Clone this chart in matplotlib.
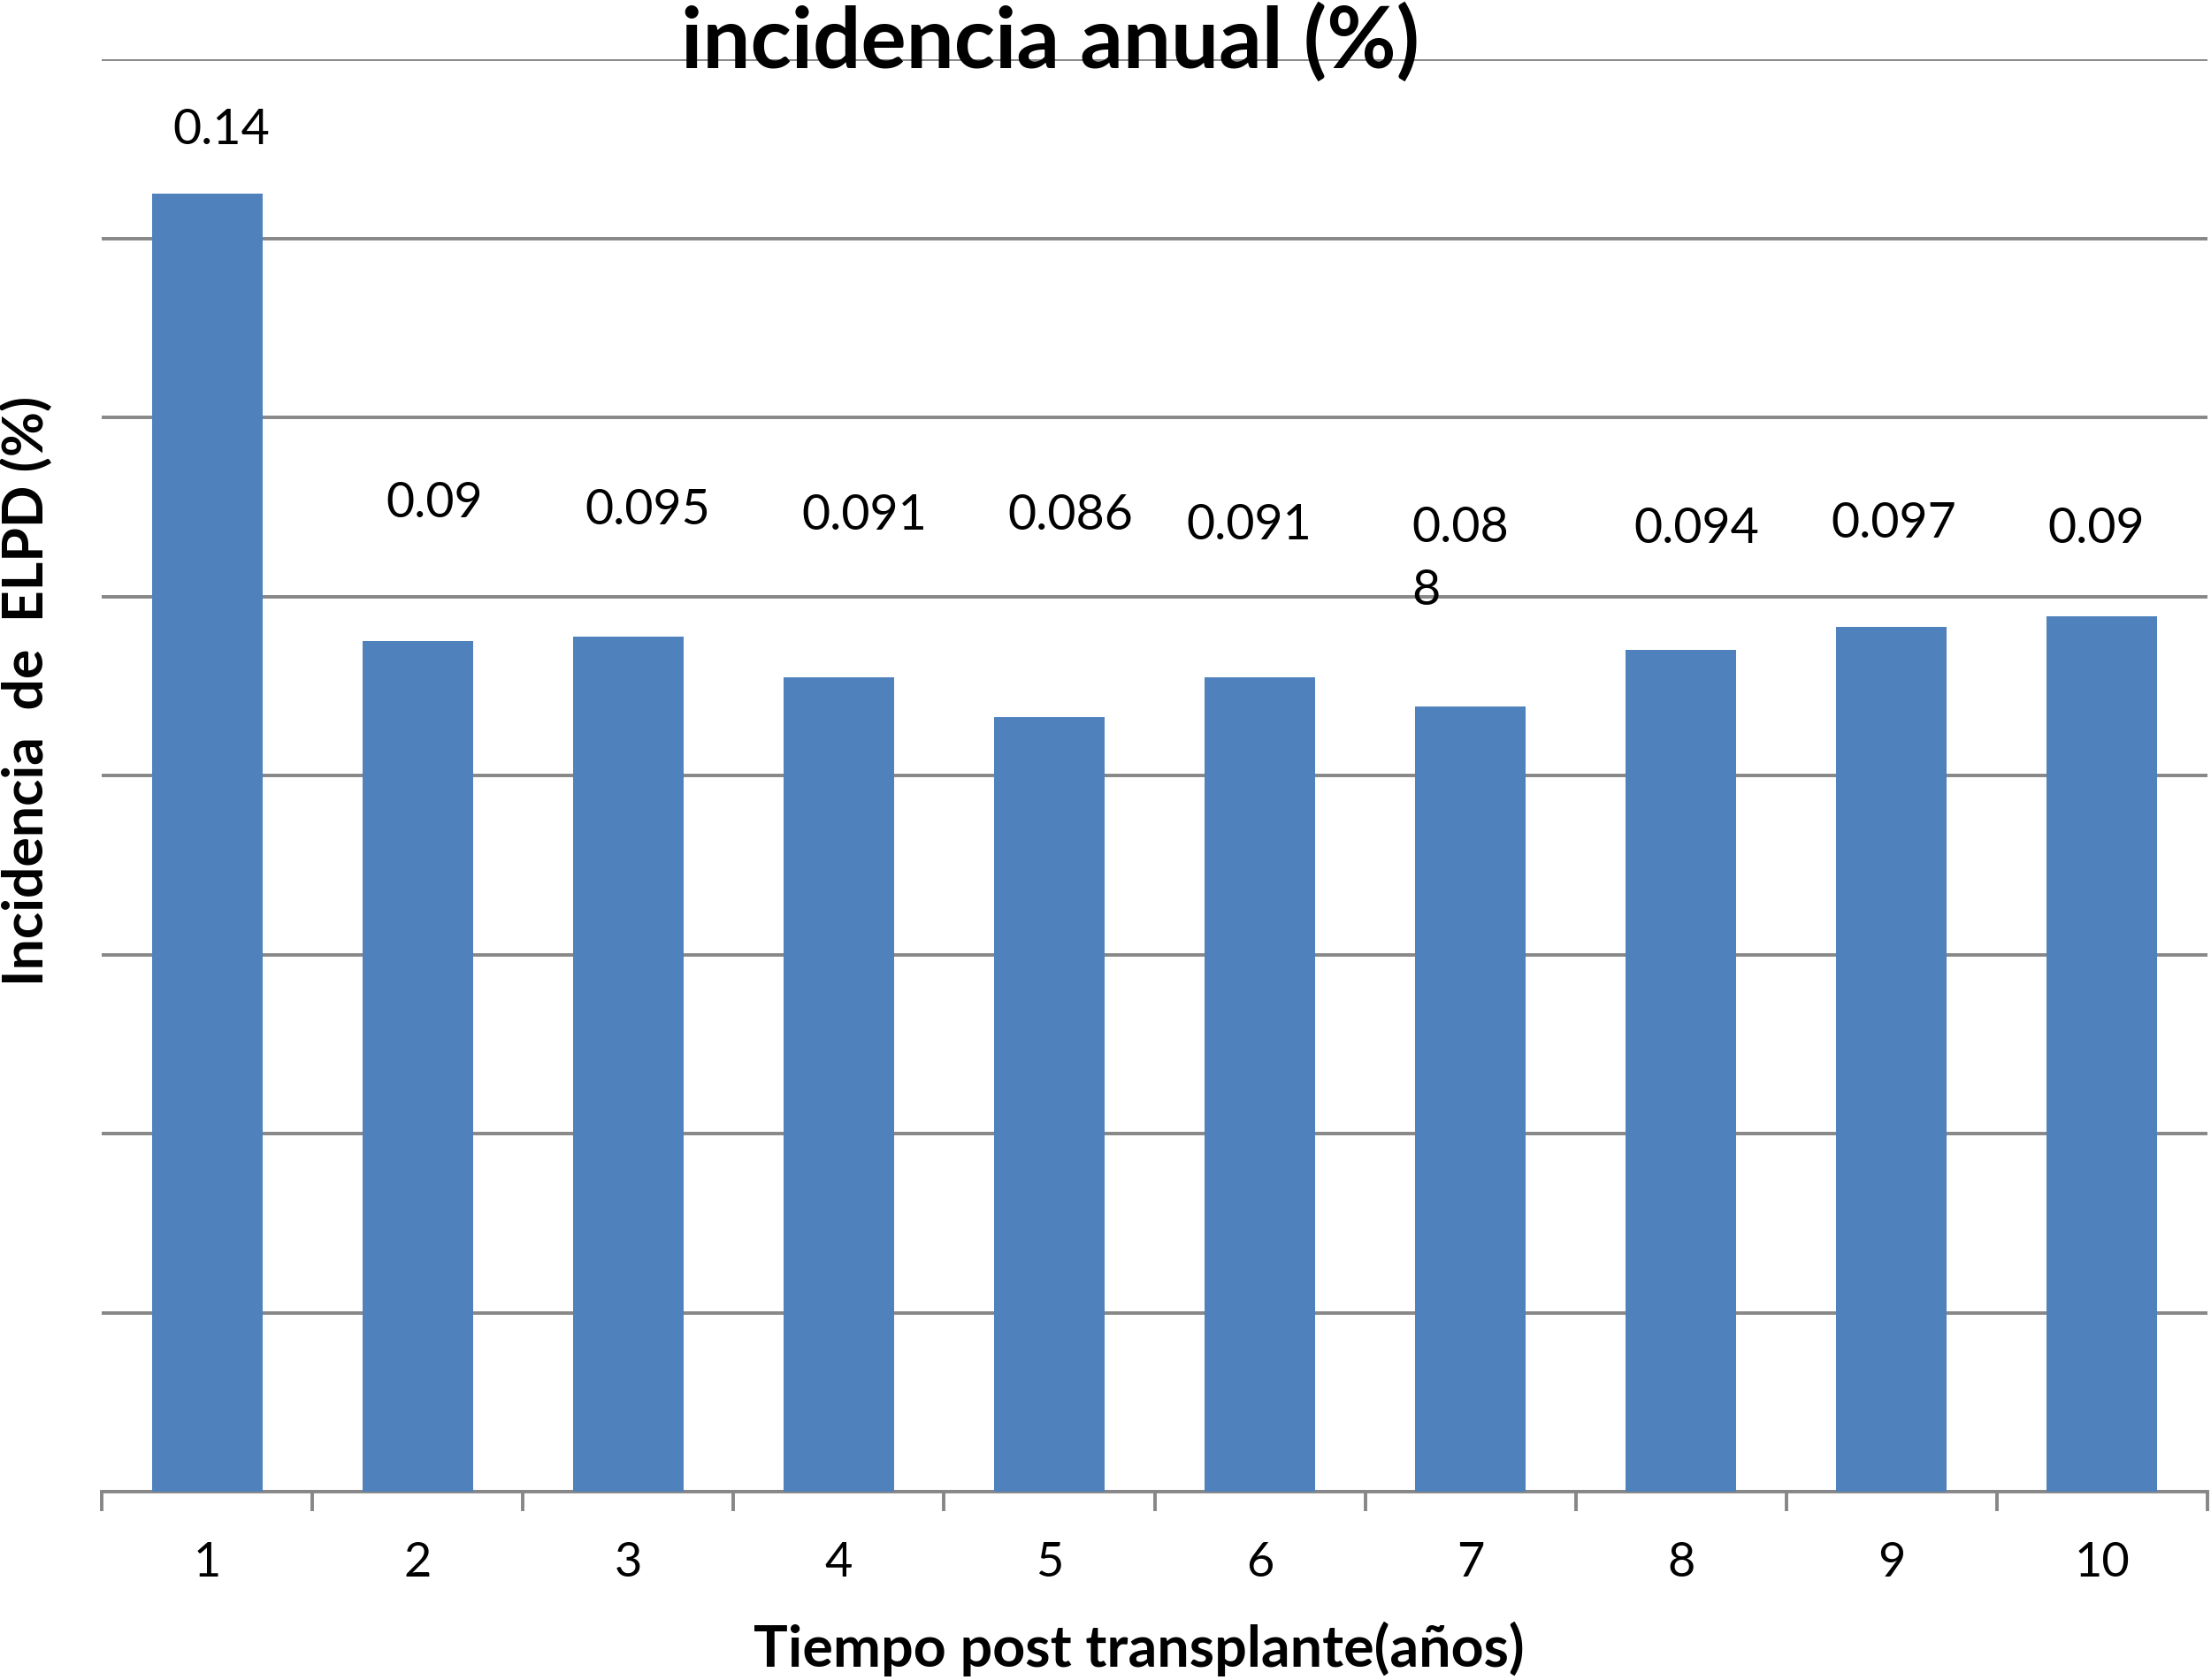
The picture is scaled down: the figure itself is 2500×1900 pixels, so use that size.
import numpy as np
import matplotlib
matplotlib.use('Agg')
import matplotlib.pyplot as plt

# data
years = ['1', '2', '3', '4', '5', '6', '7', '8', '9', '10']
incidence = [0.145, 0.095, 0.0955, 0.091, 0.0865, 0.091, 0.0877, 0.094, 0.0966, 0.0978]
bar_labels = ['0.14', '0.09', '0.095', '0.091', '0.086', '0.091', '0.08\n8', '0.094', '0.097', '0.09']

# where the value labels sit (data coords) - they are placed by hand in the original
label_x = [0.067, 1.079, 2.091, 3.12, 4.099, 4.947, 5.72, 7.073, 8.009, 8.971]
label_y = [0.1521, 0.1104, 0.1096, 0.1090, 0.1090, 0.1079, 0.1041, 0.1075, 0.1081, 0.1075]
label_ha = ['center'] * 6 + ['left'] + ['center'] * 3

plt.rcParams['font.family'] = ['Lato', 'DejaVu Sans']
GRID_C = '#878787'
BAR_C = '#4F81BD'

fig = plt.figure(figsize=(25, 19), dpi=100)
ax = fig.add_axes([0.046, 0.1121, 0.9524, 0.8526])

x = np.arange(len(years))
ax.bar(x, incidence, width=0.525, color=BAR_C, zorder=3)

for xi, yi, txt, ha in zip(label_x, label_y, bar_labels, label_ha):
    ax.text(xi, yi, txt, ha=ha, va='center', fontsize=40, linespacing=1.5, zorder=4)

ax.set_xlim(-0.5, len(years) - 0.5)
ax.set_ylim(0, 0.16)
ax.set_yticks(np.arange(0, 0.161, 0.02))
ax.yaxis.grid(True, color=GRID_C, linewidth=2.8, zorder=0)
ax.tick_params(axis='y', length=0, labelleft=False)

ax.set_xticks(x)
ax.set_xticklabels(years, fontsize=39)
ax.set_xticks(np.arange(-0.5, len(years)), minor=True)
ax.tick_params(axis='x', which='major', length=0, pad=40)
ax.tick_params(axis='x', which='minor', length=16, width=2.8, color=GRID_C)

for side in ['left', 'right', 'top']:
    ax.spines[side].set_visible(False)
ax.spines['bottom'].set_color(GRID_C)
ax.spines['bottom'].set_linewidth(2.8)

fig.text(0.475, 0.9595, 'incidencia anual (%)', ha='center', va='baseline',
         fontsize=69, fontweight='bold')
fig.text(0.515, 0.008, 'Tiempo post transplante(años)', ha='center', va='baseline',
         fontsize=46.5, fontweight='bold')
fig.text(0.012, 0.589, 'Incidencia  de  ELPD (%)', ha='center', va='center',
         rotation=90, fontsize=45, fontweight='bold')

fig.savefig('out.png', dpi=100)
